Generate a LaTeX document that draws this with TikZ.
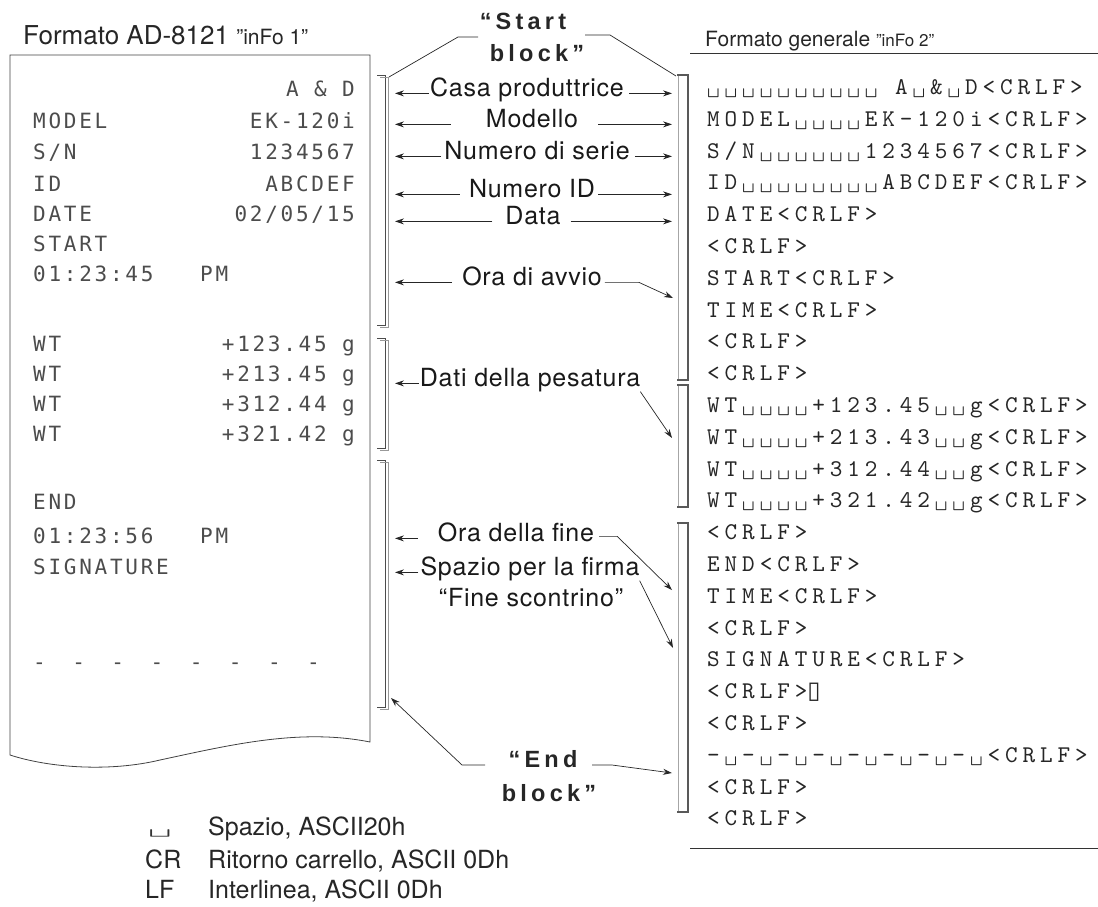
\documentclass[tikz,border=0pt]{standalone}
\usepackage{fontspec}
\setmainfont{TeX Gyre Heros}
\newfontfamily\lblfont{TeX Gyre Heros}[LetterSpace=3]
\newfontfamily\rcptfont{DejaVu Sans Mono}[LetterSpace=13]
\newfontfamily\codefont{lmmono10-regular.otf}[LetterSpace=20.5]
\newfontfamily\codeplain{lmmono10-regular.otf}
\newfontfamily\blockfont{Liberation Sans}[LetterSpace=18]
\newfontfamily\djv{DejaVu Sans}
\usetikzlibrary{arrows.meta}
\tikzset{
  ttl/.style={font=\fontsize{26pt}{28pt}\selectfont, inner sep=0pt, anchor=base west, text=black!85},
  ttlb/.style={font=\fontsize{21pt}{23pt}\selectfont, inner sep=0pt, anchor=base west, text=black!85},
  lbl/.style={font=\lblfont\fontsize{25pt}{27pt}\selectfont, inner sep=0pt, anchor=base, text=black!90},
  blk/.style={font=\blockfont\bfseries\fontsize{23.5pt}{25pt}\selectfont, inner sep=0pt, anchor=base, text=black!85},
  rc/.style={font=\rcptfont\fontsize{21pt}{21pt}\selectfont, text=black!70, inner sep=0pt},
  code/.style={font=\codefont\fontsize{24pt}{24pt}\selectfont, text=black!85, inner sep=0pt, anchor=base west},
  leg/.style={font=\fontsize{25pt}{27pt}\selectfont, inner sep=0pt, anchor=base west, text=black!85},
  paper/.style={draw=black!75, line width=0.8pt},
  rule/.style={draw=black!80, line width=0.8pt},
  brkdark/.style={draw=black!70, line width=0.8pt},
  brklight/.style={draw=black!40, line width=0.7pt},
  brkR/.style={draw=black!65, line width=1.2pt},
  brkRthin/.style={draw=black!35, line width=0.5pt},
  conn/.style={draw=black!85, line width=0.7pt},
  arr/.style={conn, -{Stealth[length=9pt,width=6pt]}}
}
\begin{document}
\begin{tikzpicture}[x=1pt,y=-1pt]
\useasboundingbox (0,0) rectangle (1098,907);

% titles
\node[ttl] (t1) at (23,45) {Formato AD-8121 {\fontsize{21pt}{21pt}\selectfont "inFo 1"}};
\node[ttlb] (t2) at (705,47) {Formato generale {\fontsize{17pt}{17pt}\selectfont "inFo 2"}};
\draw[rule] (690,53) -- (1098,53);
\draw[rule] (690,848) -- (1098,848);

% receipt paper
\draw[paper] (10,55) -- (370,55) -- (370,742)
  .. controls (300,728) and (230,745) .. (160,760)
  .. controls (110,772) and (50,768) .. (10,755) -- cycle;

% receipt text
\node[rc, anchor=base east] (p0) at (355,96.5) {A \& D};
\node[rc, anchor=base west] (p1a) at (33,128.5) {MODEL};
\node[rc, anchor=base east] (p1b) at (355,128.5) {EK-120i};
\node[rc, anchor=base west] (p2a) at (33,159.5) {S/N};
\node[rc, anchor=base east] (p2b) at (355,159.5) {1234567};
\node[rc, anchor=base west] (p3a) at (33,191.5) {ID};
\node[rc, anchor=base east] (p3b) at (355,191.5) {ABCDEF};
\node[rc, anchor=base west] (p4a) at (33,221.5) {DATE};
\node[rc, anchor=base east] (p4b) at (355,221.5) {02/05/15};
\node[rc, anchor=base west] (p5) at (33,251.5) {START};
\node[rc, anchor=base west] (p6a) at (33,281.5) {01:23:45};
\node[rc, anchor=base west] (p6b) at (200,281.5) {PM};
\node[rc, anchor=base west] (w1a) at (33,351.5) {WT};
\node[rc, anchor=base east] (w1b) at (355,351.5) {+123.45 g};
\node[rc, anchor=base west] (w2a) at (33,381.5) {WT};
\node[rc, anchor=base east] (w2b) at (355,381.5) {+213.45 g};
\node[rc, anchor=base west] (w3a) at (33,411.5) {WT};
\node[rc, anchor=base east] (w3b) at (355,411.5) {+312.44 g};
\node[rc, anchor=base west] (w4a) at (33,441.5) {WT};
\node[rc, anchor=base east] (w4b) at (355,441.5) {+321.42 g};
\node[rc, anchor=base west] (e1) at (33,509.5) {END};
\node[rc, anchor=base west] (e2a) at (33,543.5) {01:23:56};
\node[rc, anchor=base west] (e2b) at (200,543.5) {PM};
\node[rc, anchor=base west] (e3) at (33,574.5) {SIGNATURE};
\node[rc, anchor=base west] (e4) at (33,669) {-\hspace{26.5pt}-\hspace{26.5pt}-\hspace{26.5pt}-\hspace{26.5pt}-\hspace{26.5pt}-\hspace{26.5pt}-\hspace{26.5pt}-};

% left brackets (line with a lighter shadow line)
\draw[brkdark] (377,75) -- (385,75) -- (385,325) -- (377,325);
\draw[brklight] (380,77.5) -- (388,77.5) -- (388,327.5) -- (380,327.5);
\draw[brkdark] (377,338) -- (385,338) -- (385,448) -- (377,448);
\draw[brklight] (380,340.5) -- (388,340.5) -- (388,450.5) -- (380,450.5);
\draw[brkdark] (377,460) -- (385,460) -- (385,707) -- (377,707);
\draw[brklight] (380,462.5) -- (388,462.5) -- (388,709.5) -- (380,709.5);

% right brackets
\draw[brkRthin] (678,75) -- (678,380);
\draw[brkR] (677,75) -- (688,75) -- (688,380) -- (677,380);
\draw[brkRthin] (678,385) -- (678,507);
\draw[brkR] (677,385) -- (688,385) -- (688,507) -- (677,507);
\draw[brkRthin] (678,523) -- (678,812);
\draw[brkR] (677,523) -- (688,523) -- (688,812) -- (677,812);

% right column
\foreach \t [count=\k from 0] in {
  {␣␣␣␣␣␣␣␣␣␣ A␣\&␣D<CRLF>},
  {MODEL␣␣␣␣EK-120i<CRLF>},
  {S/N␣␣␣␣␣␣1234567<CRLF>},
  {ID␣␣␣␣␣␣␣␣ABCDEF<CRLF>},
  {DATE<CRLF>},
  {<CRLF>},
  {START<CRLF>},
  {TIME<CRLF>},
  {<CRLF>},
  {<CRLF>},
  {WT␣␣␣␣+123.45␣␣g<CRLF>},
  {WT␣␣␣␣+213.43␣␣g<CRLF>},
  {WT␣␣␣␣+312.44␣␣g<CRLF>},
  {WT␣␣␣␣+321.42␣␣g<CRLF>},
  {<CRLF>},
  {END<CRLF>},
  {TIME<CRLF>},
  {<CRLF>},
  {SIGNATURE<CRLF>},
  {<CRLF>{\djv\fontsize{24pt}{24pt}\selectfont ▯}},
  {<CRLF>},
  {-␣-␣-␣-␣-␣-␣-␣-␣<CRLF>},
  {<CRLF>},
  {<CRLF>}}
  {\node[code] (r\k) at (707,{94.5+31.8*\k}) {\t};}

% guide coordinates for arrow ends
\coordinate (lbx) at (395,0);
\coordinate (rbx) at (672,0);

% middle labels
\node[blk] (sq1) at (523,30) {“Start};
\node[blk] (sq2) at (537,62) {block”};
\node[lbl] (casa) at (527,96) {Casa produttrice};
\node[lbl] (mod) at (532,127) {Modello};
\node[lbl] (ser) at (537,159) {Numero di serie};
\node[lbl] (nid) at (532,197) {Numero ID};
\node[lbl] (dat) at (533,224) {Data};
\node[lbl] (avv) at (532,285) {Ora di avvio};
\node[lbl] (pes) at (530,386) {Dati della pesatura};
\node[lbl] (fin) at (516,541) {Ora della fine};
\node[lbl] (fir) at (530,575) {Spazio per la firma};
\node[lbl] (scn) at (531,606) {“Fine scontrino”};
\node[blk] (eq1) at (543,767) {“End};
\node[blk] (eq2) at (549,801) {block”};

% start block lines
\coordinate (sL) at (478,37);
\coordinate (sLk) at (458,37);
\coordinate (bLt) at (389,77);
\coordinate (sR) at (585,35);
\coordinate (sRk) at (610,35);
\coordinate (bRt) at (676,76);
\draw[conn] (sL) -- (sLk) -- (bLt);
\draw[conn] (sR) -- (sRk) -- (bRt);

% arrows
\draw[arr, shorten <=1pt] (casa.mid west) -- (casa.mid west -| lbx);
\draw[arr, shorten <=5pt] (casa.mid east) -- (casa.mid east -| rbx);
\draw[arr, shorten <=35pt] (mod.mid west) -- (mod.mid west -| lbx);
\draw[arr, shorten <=20pt] (mod.mid east) -- (mod.mid east -| rbx);
\draw[arr, shorten <=3pt] (ser.mid west) -- (ser.mid west -| lbx);
\draw[arr, shorten <=5pt] (ser.mid east) -- (ser.mid east -| rbx);
\draw[arr, shorten <=9pt] (nid.mid west) -- (nid.mid west -| lbx);
\draw[arr, shorten <=3pt] (nid.mid east) -- (nid.mid east -| rbx);
\draw[arr, shorten <=13pt] (dat.mid west) -- (dat.mid west -| lbx);
\draw[arr, shorten <=10pt] (dat.mid east) -- (dat.mid east -| rbx);
\draw[arr, shorten <=10pt] (avv.mid west) -- (avv.mid west -| lbx);
\coordinate (tAvv) at (673,298);
\draw[arr, shorten <=3pt] (avv.mid east) -- ++(37,0) -- (tAvv);
\draw[arr, shorten <=1pt] (pes.mid west) -- (pes.mid west -| lbx);
\coordinate (tPes) at (672,438);
\draw[arr] (pes.south east) -- (tPes);
\draw[arr, shorten <=20pt] (fin.mid west) -- (fin.mid west -| lbx);
\coordinate (tFin) at (672,590);
\draw[arr, shorten <=5pt] ([yshift=2pt]fin.mid east) -- ++(23,0) -- (tFin);
\draw[arr, shorten <=2pt] (fir.mid west) -- (fir.mid west -| lbx);
\coordinate (tFir) at (673,648);
\draw[arr] (fir.south east) -- (tFir);

% end block lines
\coordinate (eL) at (485,765);
\coordinate (eLk) at (462,765);
\coordinate (tEL) at (391,698);
\coordinate (eR) at (592,765);
\coordinate (eRk) at (612,765);
\coordinate (tER) at (672,773);
\draw[arr] (eL) -- (eLk) -- (tEL);
\draw[arr] (eR) -- (eRk) -- (tER);

% legend
\node[anchor=base, inner sep=0pt, font=\codeplain\fontsize{20pt}{20pt}\selectfont, text=black!80] (k1) at (160,834) {\scalebox{2.2}[1]{␣}};
\node[leg] (l1) at (208,835) {Spazio, ASCII20h};
\node[leg] (k2) at (145,868) {CR};
\node[leg] (l2) at (208,868) {Ritorno carrello, ASCII 0Dh};
\node[leg] (k3) at (145,898) {LF};
\node[leg] (l3) at (208,898) {Interlinea, ASCII 0Dh};
\end{tikzpicture}
\end{document}
